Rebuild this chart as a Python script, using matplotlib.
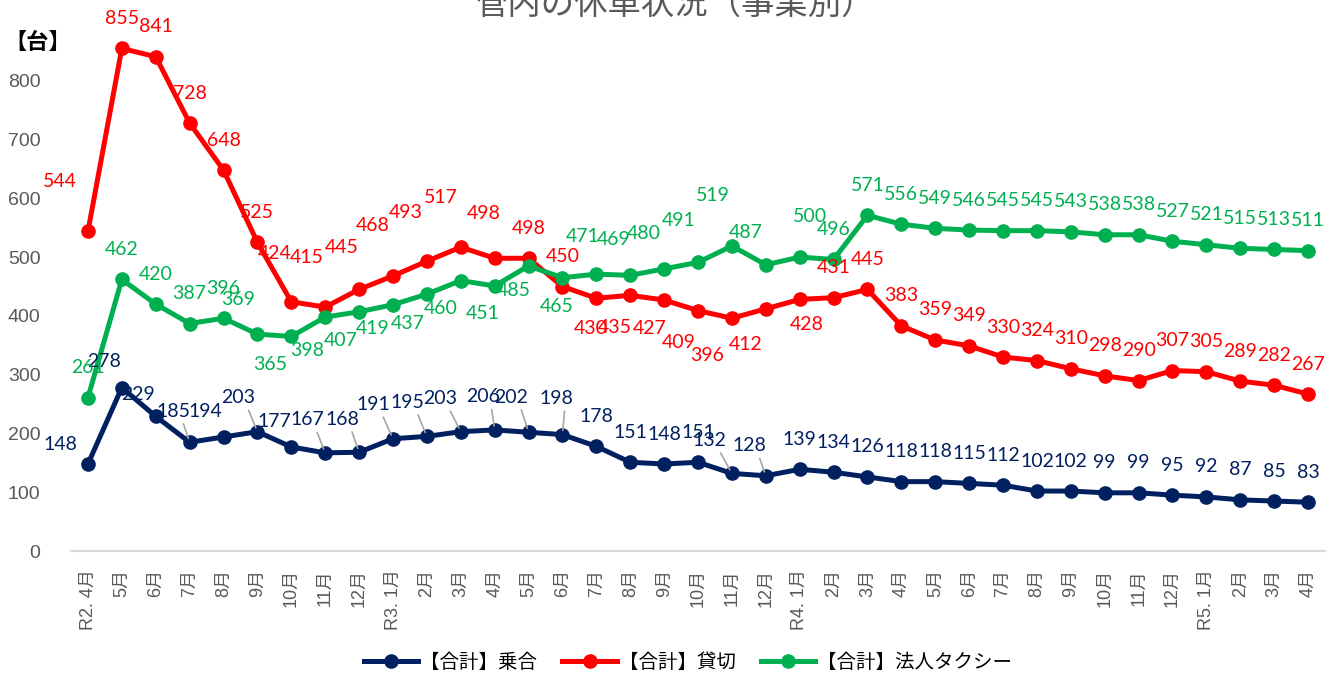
import matplotlib
matplotlib.use("Agg")
import matplotlib.pyplot as plt
from matplotlib.lines import Line2D

plt.rcParams['font.family'] = ['Liberation Sans', 'Noto Sans CJK JP', 'DejaVu Sans']

# Data
months = ["R2. 4月", "5月", "6月", "7月", "8月", "9月", "10月", "11月", "12月",
          "R3. 1月", "2月", "3月", "4月", "5月", "6月", "7月", "8月", "9月", "10月", "11月", "12月",
          "R4. 1月", "2月", "3月", "4月", "5月", "6月", "7月", "8月", "9月", "10月", "11月", "12月",
          "R5. 1月", "2月", "3月", "4月"]

noriai = [148, 278, 229, 185, 194, 203, 177, 167, 168, 191, 195, 203, 206, 202, 198, 178,
          151, 148, 151, 132, 128, 139, 134, 126, 118, 118, 115, 112, 102, 102, 99, 99,
          95, 92, 87, 85, 83]
kashikiri = [544, 855, 841, 728, 648, 525, 424, 415, 445, 468, 493, 517, 498, 498, 450, 430,
             435, 427, 409, 396, 412, 428, 431, 445, 383, 359, 349, 330, 324, 310, 298, 290,
             307, 305, 289, 282, 267]
houjin = [261, 462, 420, 387, 396, 369, 365, 398, 407, 419, 437, 460, 451, 485, 465, 471,
          469, 480, 491, 519, 487, 500, 496, 571, 556, 549, 546, 545, 545, 543, 538, 538,
          527, 521, 515, 513, 511]

series_names = ["【合計】乗合", "【合計】貸切", "【合計】法人タクシー"]
colors = ["#002060", "#FF0000", "#00B050"]

# label offsets in pixels (dx, dy with dy downwards), default is centred above
label_shift = [
    {0: (-28, -20), 1: (-18, -26), 2: (-18, -22), 3: (-16, -31), 4: (-18, -25), 5: (-19, -34),
     6: (-17, -25), 7: (-18, -33), 8: (-17, -33), 9: (-20, -34), 10: (-19, -34), 11: (-21, -33),
     12: (-12, -33), 13: (-17, -35), 14: (-6, -36), 19: (-22, -33), 20: (-16, -30)},
    {0: (-28, -50), 6: (-17, -48), 7: (-18, -50), 8: (-17, -42), 9: (-20, -50), 10: (-21, -49),
     11: (-20, -50), 12: (-11, -45), 15: (-6, 30), 16: (-15, 32), 17: (-14, 28), 18: (-19, 32),
     19: (-25, 37), 20: (-20, 36), 21: (7, 25)},
    {5: (-19, -35), 6: (-21, 28), 7: (-18, 33), 8: (-18, 29), 9: (-20, 24), 10: (-19, 29),
     11: (-20, 28), 12: (-12, 28), 13: (-15, 25), 14: (-6, 29), 15: (-14, -38), 16: (-17, -36),
     17: (-20, -35), 18: (-19, -42), 19: (-19, -50), 20: (-20, -32), 21: (10, -41)},
]
leader_idx = [3, 5, 7, 8, 9, 10, 11, 12, 13, 14, 19, 20]

fig = plt.figure(figsize=(13.36, 6.75), dpi=100)
ax = fig.add_axes([71 / 1336, 124 / 675, 1254 / 1336, 529 / 675])

x = list(range(len(months)))
for k, vals in enumerate([noriai, kashikiri, houjin]):
    ax.plot(x, vals, color=colors[k], lw=3.6, marker='o', markersize=9.5,
            solid_capstyle='round', zorder=3)
    for i, v in enumerate(vals):
        dx, dy = label_shift[k].get(i, (0, -30))
        arrow = None
        if k == 0 and i in leader_idx:
            arrow = dict(arrowstyle='-', color='#A6A6A6', lw=1.2,
                         relpos=(0.75, 0.0), shrinkA=1, shrinkB=3)
        ax.annotate(str(v), (i, v), xytext=(dx, -dy), textcoords='offset pixels',
                    ha='center', va='center', fontsize=14, color=colors[k],
                    family=['Lato', 'DejaVu Sans'], arrowprops=arrow, zorder=4)

ax.set_xlim(-0.5, len(months) - 0.5)
ax.set_ylim(0, 900)
ax.set_yticks(range(0, 900, 100))
ax.set_xticks(x)
ax.set_xticklabels(months, rotation=90, fontsize=13, color='#595959')
ax.tick_params(axis='y', length=0, pad=22, labelsize=14, labelcolor='#595959')
ax.tick_params(axis='x', length=0, pad=13)
for s in ['top', 'right', 'left']:
    ax.spines[s].set_visible(False)
ax.spines['bottom'].set_color('#D9D9D9')
ax.spines['bottom'].set_linewidth(1.5)

# title is partly cut off at the top, as in the source image
fig.text(0.505, 0.994, "管内の休車状況（事業別）", ha='center', va='center',
         fontsize=24, color='#595959', family=['Noto Sans CJK JP'])
fig.text(0.028, 0.937, "【台】", ha='center', va='center', fontsize=16,
         color='#000000', fontweight='bold', family=['Noto Sans CJK JP'])

handles = [Line2D([0], [0], color=c, lw=3.6, marker='o', markersize=9.5) for c in colors]
fig.legend(handles, series_names, loc='center', bbox_to_anchor=(0.515, 0.019), ncol=3,
           frameon=False, handlelength=2.8, handletextpad=0.1, columnspacing=1.3,
           prop={'family': 'Noto Sans CJK JP', 'size': 14})

fig.savefig("out.png", dpi=100)
